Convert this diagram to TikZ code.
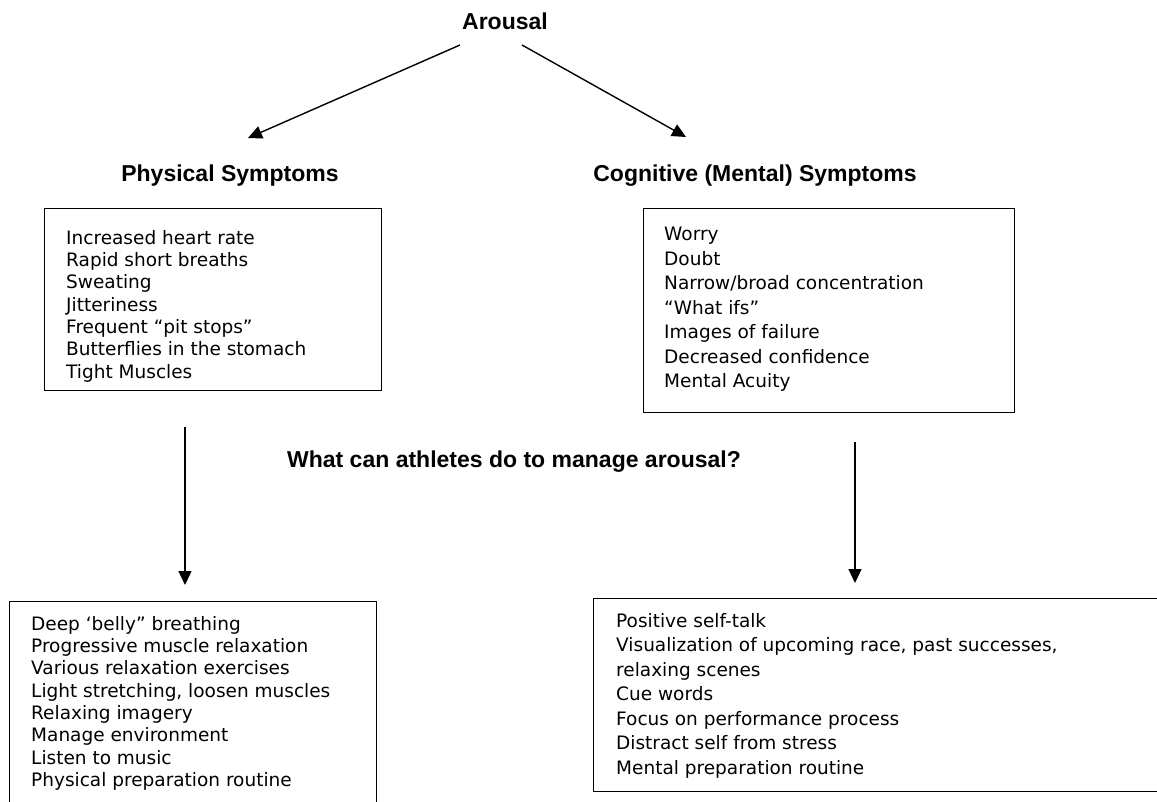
\documentclass[tikz,border=0pt]{standalone}
\usepackage{fontspec}
\setmainfont{DejaVu Sans}
\newfontfamily\headfont{Liberation Sans}
\usetikzlibrary{arrows.meta}
\begin{document}
\begin{tikzpicture}[x=1pt,y=-1pt,
  head/.style={font=\headfont\bfseries\fontsize{23}{27}\selectfont, inner sep=0},
  boxst/.style={draw, line width=1.4pt, inner sep=0, anchor=north west},
  listL/.style={font=\fontsize{18.5}{22.3}\selectfont, align=left, anchor=north west, inner sep=0},
  listR/.style={font=\fontsize{18.5}{24.5}\selectfont, align=left, anchor=north west, inner sep=0},
  arr/.style={line width=1.4pt, -{Triangle[length=14pt,width=13pt]}}]
\useasboundingbox (0,0) rectangle (1157,801);
\clip (0,0) rectangle (1157,801);

\node[head] (arousal) at (505,21) {Arousal};
\node[head] (phys) at (230,176) {Physical Symptoms};
\node[head] (cogn) at (755,176) {Cognitive (Mental) Symptoms};
\node[head] (what) at (514,462) {What can athletes do to manage arousal?};

\node[boxst, minimum width=337, minimum height=182] (pbox) at (44,208) {};
\node[listL] (ptxt) at (66,230) {Increased heart rate\\Rapid short breaths\\Sweating\\Jitteriness\\Frequent “pit stops”\\Butterflies in the stomach\\Tight Muscles};

\node[boxst, minimum width=371, minimum height=204] (cbox) at (643,208) {};
\node[listR] (ctxt) at (664,227) {Worry\\Doubt\\Narrow/broad concentration\\“What ifs”\\Images of failure\\Decreased confidence\\Mental Acuity};

\node[boxst, minimum width=367, minimum height=230] (pmbox) at (9,601) {};
\node[listL] (pmtxt) at (31,616) {Deep ‘belly” breathing\\Progressive muscle relaxation\\Various relaxation exercises\\Light stretching, loosen muscles\\Relaxing imagery\\Manage environment\\Listen to music\\Physical preparation routine};

\node[boxst, minimum width=590, minimum height=193] (cmbox) at (593,598) {};
\node[listR] (cmtxt) at (616,613) {Positive self-talk\\Visualization of upcoming race, past successes,\\relaxing scenes\\Cue words\\Focus on performance process\\Distract self from stress\\Mental preparation routine};

\coordinate (aLs) at (460,45);
\coordinate (aLe) at (248,138);
\coordinate (aRs) at (522,45);
\coordinate (aRe) at (686,137);
\coordinate (dLs) at (185,427);
\coordinate (dLe) at (185,585);
\coordinate (dRs) at (855,442);
\coordinate (dRe) at (855,583);

\draw[arr] (aLs) -- (aLe);
\draw[arr] (aRs) -- (aRe);
\draw[arr] (dLs) -- (dLe);
\draw[arr] (dRs) -- (dRe);
\end{tikzpicture}
\end{document}
